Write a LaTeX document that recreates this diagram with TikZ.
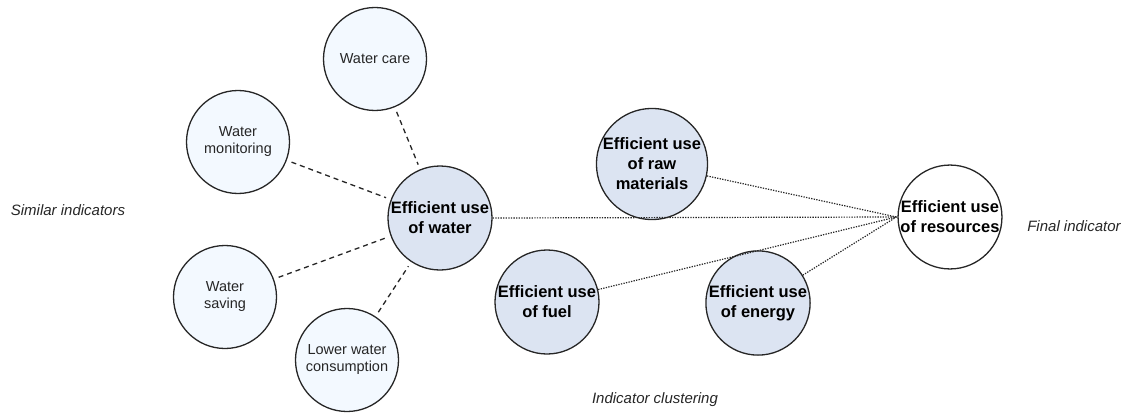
\documentclass[tikz,border=0pt]{standalone}
\usepackage{fontspec}
\setmainfont{Liberation Sans}
\begin{document}
\begin{tikzpicture}[x=1pt,y=-1pt,
  satellite/.style={circle,draw=black!85,line width=1.3pt,fill=satfill,minimum size=103pt,inner sep=0pt,align=center,font=\fontsize{14.5}{17}\selectfont,text=black!85},
  cluster/.style={circle,draw=black!85,line width=1.3pt,fill=clusterfill,minimum size=104pt,inner sep=0pt,align=center,font=\fontsize{16.5}{20}\selectfont\bfseries},
  finalnode/.style={circle,draw=black!85,line width=1.3pt,fill=white,minimum size=100pt,inner sep=0pt,align=center,font=\fontsize{16.5}{20}\selectfont\bfseries},
  simlink/.style={draw=black!85,line width=1.3pt,dash pattern=on 5pt off 4pt,shorten <=5pt,shorten >=5pt},
  clulink/.style={draw=black!85,line width=1.2pt,dash pattern=on 1.3pt off 1.3pt},
  caption/.style={font=\fontsize{15}{18}\selectfont\itshape,text=black!85}]
\definecolor{satfill}{RGB}{243,249,255}
\definecolor{clusterfill}{RGB}{220,228,242}
\useasboundingbox (0,0) rectangle (1134,417);

% water-related indicators
\node[cluster] (water) at (440,218) {Efficient use\\of water};
\node[satellite] (care) at (375,59) {Water care};
\node[satellite] (monitor) at (238,142) {Water\\monitoring};
\node[satellite] (saving) at (225,297) {Water\\saving};
\node[satellite] (lower) at (347,360) {Lower water\\consumption};

% other clustered indicators
\node[cluster] (raw) at (652,164) {Efficient use\\of raw\\materials};
\node[cluster] (fuel) at (547,302) {Efficient use\\of fuel};
\node[cluster] (energy) at (758,303) {Efficient use\\of energy};
\node[finalnode] (resources) at (950,217) {Efficient use\\of resources};

% captions
\node[caption] (simcap) at (68,210) {Similar indicators};
\node[caption] (finalcap) at (1074,226) {Final indicator};
\node[caption] (clucap) at (655,400) {Indicator clustering};

% similar indicators linked to the water cluster
\draw[simlink] (care) -- (water);
\draw[simlink] (monitor) -- (water);
\draw[simlink] (saving) -- (water);
\draw[simlink] (lower) -- (water);

% clusters feeding the final indicator
\coordinate (join) at ([xshift=-1pt]resources.west);
\draw[clulink] (water.east) -- (join);
\draw[clulink] (raw) -- (join);
\draw[clulink] (fuel) -- (join);
\draw[clulink] (energy) -- (join);
\end{tikzpicture}
\end{document}
